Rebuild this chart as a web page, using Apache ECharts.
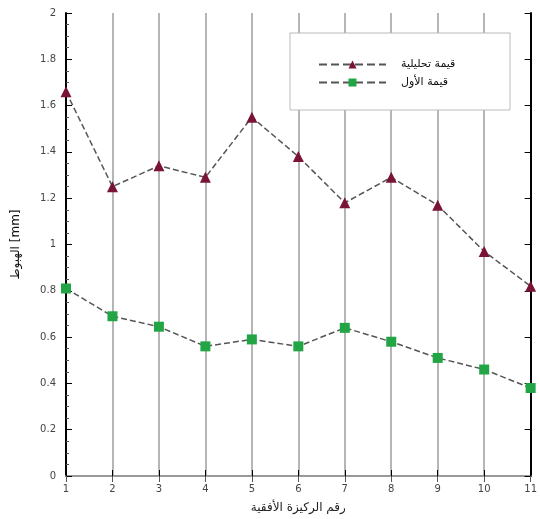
<!DOCTYPE html>
<html><head><meta charset="utf-8">
<script src="https://cdn.jsdelivr.net/npm/echarts@6/dist/echarts.min.js"></script>
<style>html,body{margin:0;padding:0;background:#fff}#c{width:540px;height:519px}</style>
</head><body><div id="c"></div>
<script>
var xValues = [1,2,3,4,5,6,7,8,9,10,11];
var analytical = [1.66,1.25,1.34,1.29,1.55,1.38,1.18,1.29,1.17,0.97,0.82];
var measured = [0.81,0.69,0.645,0.56,0.59,0.56,0.64,0.58,0.51,0.46,0.38];
var seriesNames = ['قيمة تحليلية','قيمة الأول'];
var yTicks = ['0','0.2','0.4','0.6','0.8','1','1.2','1.4','1.6','1.8','2'];

var chart = echarts.init(document.getElementById('c'));
function pairs(v){return xValues.map(function(x,i){return [x,v[i]];});}
chart.setOption({
  animation:false,
  backgroundColor:'#fff',
  textStyle:{fontFamily:'DejaVu Sans'},
  grid:{left:66,right:5,top:13,bottom:43},
  graphic:[{type:'rect',shape:{x:290,y:33,width:220,height:77},style:{fill:'#fff',stroke:'#bbb',lineWidth:1},z:50}],
  legend:{
    left:313, top:54, orient:'vertical', itemGap:7, itemWidth:67, itemHeight:10,
    z:60,
    textStyle:{fontSize:11,color:'#111',fontFamily:'DejaVu Sans',padding:[0,0,0,10]},
    data:seriesNames
  },
  xAxis:[{type:'value',min:1,max:11,interval:1,
    name:'رقم الركيزة الأفقية',nameLocation:'middle',nameGap:26,
    nameTextStyle:{fontSize:12,color:'#222'},
    axisLine:{show:true,lineStyle:{color:'#000',width:2}},
    axisTick:{show:true,inside:true,length:6,lineStyle:{color:'#000'}},
    axisLabel:{fontSize:10,color:'#444',margin:8},
    splitLine:{show:true,lineStyle:{color:'#b5b5b5',width:2}}
  },{type:'value',min:1,max:11,interval:1,position:'top',
    axisLine:{show:true,lineStyle:{color:'#999',width:2}},
    axisTick:{show:true,inside:true,length:6,lineStyle:{color:'#555'}},
    axisLabel:{show:false},splitLine:{show:false}
  }],
  yAxis:[{type:'value',min:0,max:2,interval:0.2,
    name:'الهبوط [mm]',nameLocation:'middle',nameGap:44,nameRotate:90,
    nameTextStyle:{fontSize:12,color:'#111'},
    axisLine:{show:true,lineStyle:{color:'#000',width:2}},
    axisTick:{show:true,inside:true,length:6,lineStyle:{color:'#000'}},
    minorTick:{show:true,splitNumber:4,length:3,lineStyle:{color:'#555'}},
    axisLabel:{fontSize:10,color:'#444',margin:10,formatter:function(v,i){return yTicks[Math.round(v/0.2)];}},
    splitLine:{show:false}
  },{type:'value',min:0,max:2,interval:0.2,position:'right',
    axisLine:{show:true,lineStyle:{color:'#000',width:2}},
    axisTick:{show:true,inside:true,length:6,lineStyle:{color:'#000'}},
    axisLabel:{show:false},splitLine:{show:false}
  }],
  series:[{
    name:seriesNames[0],type:'line',data:pairs(analytical),
    symbol:'triangle',symbolSize:11,
    itemStyle:{color:'#7a1436'},
    lineStyle:{color:'#555',type:'dashed',width:1.5}
  },{
    name:seriesNames[1],type:'line',data:pairs(measured),
    symbol:'rect',symbolSize:10,
    itemStyle:{color:'#22a545'},
    lineStyle:{color:'#555',type:'dashed',width:1.5}
  }]
});
</script></body></html>
